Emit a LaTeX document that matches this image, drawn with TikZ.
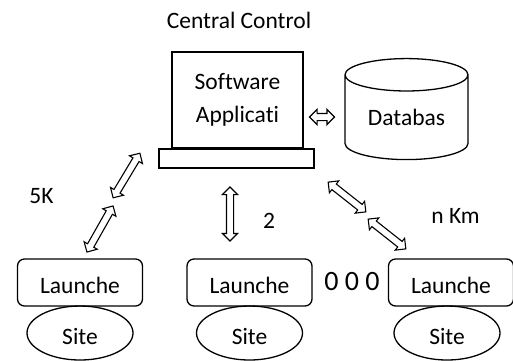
\documentclass[tikz,border=0pt]{standalone}
\usepackage{fontspec}
\setmainfont[Ligatures=NoCommon]{Carlito}
\usetikzlibrary{shapes.geometric,shapes.arrows}

\begin{document}
\begin{tikzpicture}[x=1pt,y=-1pt,line width=1.3pt,font=\fontsize{23.5}{33}\selectfont]
\tikzset{
  launchbox/.style={draw,rounded corners=7pt,minimum width=125pt,minimum height=47pt,inner sep=0pt,text height=21pt,text depth=0pt},
  sitenode/.style={draw,ellipse,minimum width=106pt,minimum height=54pt,inner sep=0pt,text height=22pt,text depth=0pt},
  dblarrow/.style={draw,double arrow,line width=1.1pt,inner xsep=0pt,inner ysep=3pt,double arrow head extend=4pt,double arrow head indent=0pt}
}
\useasboundingbox (0,0) rectangle (513,360);
% central control
\node (title) at (239,20) {Central Control};
\node[draw,minimum width=131pt,minimum height=96pt,align=center,inner sep=0pt] (soft) at (237.5,100) {Software\\Applicati};
\node[draw,minimum width=155pt,minimum height=19pt,inner sep=0pt] (base) at (236.5,158.5) {};
\node[draw,cylinder,shape border rotate=90,aspect=0.42,minimum width=123pt,minimum height=101pt,inner sep=0pt] (db) at (406.5,117.5) {Databas};
\node[dblarrow,minimum height=25pt] (link) at (322,117) {};
% launch sites
\foreach \name/\x in {a/80,b/249.5,c/451}{
  \node[launchbox] (launch\name) at (\x,282.5) {Launche};
}
\node[sitenode] (sitea) at (80,333) {Site};
\node[sitenode] (siteb) at (249.5,333) {Site};
\node[sitenode] (sitec) at (447,333) {Site};
% links
\node[dblarrow,minimum height=52pt,rotate=59] (la1) at (126.5,175.5) {};
\node[dblarrow,minimum height=53pt,rotate=60.5] (la2) at (100,229) {};
\node[dblarrow,minimum height=54pt,rotate=90] (lb) at (230,214) {};
\node[dblarrow,minimum height=48pt,rotate=-38.3] (lc1) at (347,197) {};
\node[dblarrow,minimum height=48pt,rotate=-38.3] (lc2) at (387,234) {};
% distances
\node (dista) at (41.5,196) {5K};
\node (distb) at (269,221) {2};
\node (distc) at (455.5,216) {n Km};
\node[font=\fontsize{28}{33}\selectfont] (dots) at (352,281) {0 0 0};
\end{tikzpicture}
\end{document}
